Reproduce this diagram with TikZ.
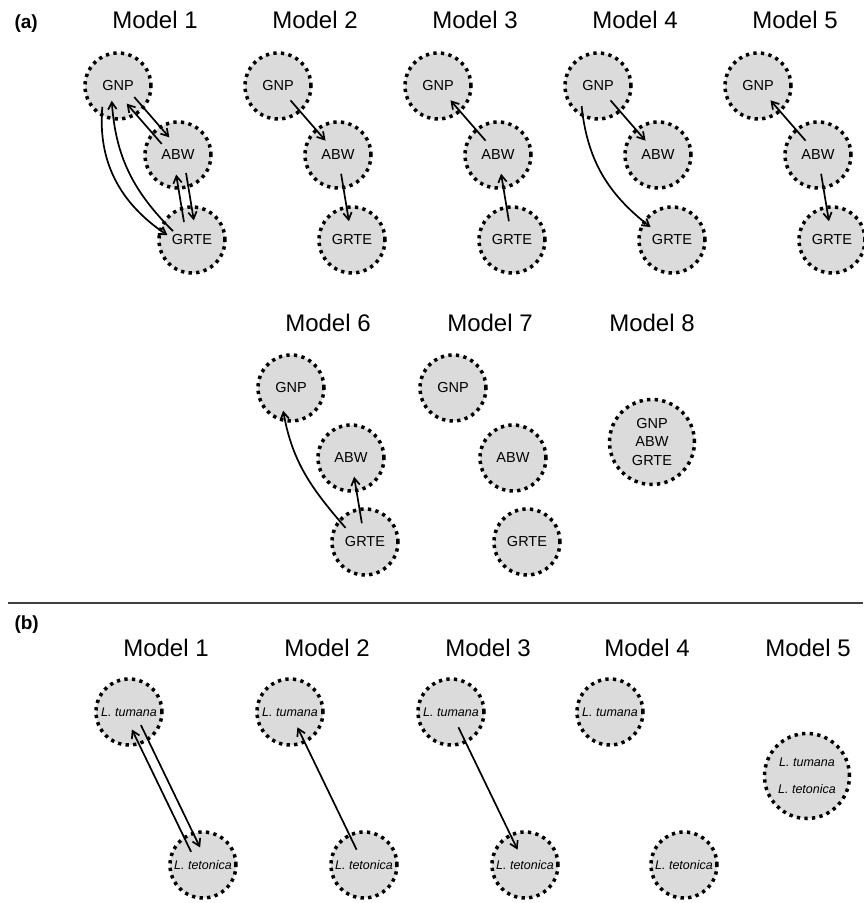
\documentclass[tikz,border=0pt]{standalone}
\usepackage{fontspec}
\setmainfont{Liberation Sans}
\usetikzlibrary{calc,arrows.meta}

\begin{document}
\begin{tikzpicture}[x=1pt,y=1pt,
  font=\fontsize{14.5}{16}\selectfont,
  pop/.style={circle,draw=black,fill=black!14,line width=3.5pt,dash pattern=on 3.3pt off 4.3pt,minimum size=66pt,inner sep=0pt,align=center},
  bigpop/.style={pop,minimum size=85pt},
  sp/.style={font=\fontsize{12.5}{14}\selectfont\itshape},
  title/.style={font=\fontsize{24}{28}\selectfont,anchor=base},
  panel/.style={font=\fontsize{19}{22}\selectfont\bfseries,anchor=base west},
  flow/.style={line width=1.7pt,-{Straight Barb[length=7pt,width=8.5pt]},shorten <=19pt,shorten >=19pt},
  flowb/.style={flow,shorten <=17pt,shorten >=17pt},
  curv/.style={line width=1.7pt,-{Straight Barb[length=7pt,width=8.5pt]}}]
\useasboundingbox (0,0) rectangle (863,903);

% ================= PANEL (a), TOP ROW =================
\node[panel] (pa) at (11,874) {(a)};
\node[title] (m1) at (155,874) {Model 1};
\node[title] (m2) at (315,874) {Model 2};
\node[title] (m3) at (475,874) {Model 3};
\node[title] (m4) at (635,874) {Model 4};
\node[title] (m5) at (795,874) {Model 5};

\node[pop] (gnp1) at (118,817) {GNP};
\node[pop] (abw1) at (178,748) {ABW};
\node[pop] (grte1) at (192,663) {GRTE};
\node[pop] (gnp2) at (278,817) {GNP};
\node[pop] (abw2) at (338,748) {ABW};
\node[pop] (grte2) at (352,663) {GRTE};
\node[pop] (gnp3) at (438,817) {GNP};
\node[pop] (abw3) at (498,748) {ABW};
\node[pop] (grte3) at (512,663) {GRTE};
\node[pop] (gnp4) at (598,817) {GNP};
\node[pop] (abw4) at (658,748) {ABW};
\node[pop] (grte4) at (672,663) {GRTE};
\node[pop] (gnp5) at (758,817) {GNP};
\node[pop] (abw5) at (818,748) {ABW};
\node[pop] (grte5) at (832,663) {GRTE};

% model 1: everything both ways
\draw[flow] ($(gnp1.center)!5pt!90:(abw1.center)$) -- ($(abw1.center)!5pt!-90:(gnp1.center)$);
\draw[flow] ($(abw1.center)!5pt!90:(gnp1.center)$) -- ($(gnp1.center)!5pt!-90:(abw1.center)$);
\draw[flow] ($(abw1.center)!5pt!90:(grte1.center)$) -- ($(grte1.center)!5pt!-90:(abw1.center)$);
\draw[flow] ($(grte1.center)!5pt!90:(abw1.center)$) -- ($(abw1.center)!5pt!-90:(grte1.center)$);
\draw[curv] ([shift={(-127:26)}]gnp1.center) to[out=-95,in=146] ([shift={(169:25)}]grte1.center);
\draw[curv] ([shift={(155:21)}]grte1.center) to[out=135,in=-86] ([shift={(-113:16)}]gnp1.center);

% model 2
\draw[flow] (gnp2.center) -- (abw2.center);
\draw[flow] (abw2.center) -- (grte2.center);
% model 3
\draw[flow] (abw3.center) -- (gnp3.center);
\draw[flow] (grte3.center) -- (abw3.center);
% model 4
\draw[flow] (gnp4.center) -- (abw4.center);
\draw[curv] ([shift={(-129:26)}]gnp4.center) to[out=-84,in=142] ([shift={(149:25)}]grte4.center);
% model 5
\draw[flow] (abw5.center) -- (gnp5.center);
\draw[flow] (abw5.center) -- (grte5.center);

% ================= PANEL (a), BOTTOM ROW =================
\node[title] (m6) at (328,571) {Model 6};
\node[title] (m7) at (490,571) {Model 7};
\node[title] (m8) at (652,571) {Model 8};

\node[pop] (gnp6) at (291,515) {GNP};
\node[pop] (abw6) at (351,445) {ABW};
\node[pop] (grte6) at (365,361) {GRTE};
\node[pop] (gnp7) at (453,515) {GNP};
\node[pop] (abw7) at (513,445) {ABW};
\node[pop] (grte7) at (527,361) {GRTE};
\node[bigpop,font=\fontsize{14.5}{18.5}\selectfont] (all8) at (652,461) {GNP\\ABW\\GRTE};

\draw[flow] (grte6.center) -- (abw6.center);
\draw[curv] ([shift={(144:24)}]grte6.center) to[out=131,in=-80] ([shift={(-109:24)}]gnp6.center);

% ================= SEPARATOR =================
\draw[black!75,line width=1.8pt] (8,300) coordinate (sepl) -- (863,300) coordinate (sepr);

% ================= PANEL (b) =================
\node[panel] (pb) at (11,273) {(b)};
\node[title] (n1) at (166,246) {Model 1};
\node[title] (n2) at (327,246) {Model 2};
\node[title] (n3) at (488,246) {Model 3};
\node[title] (n4) at (647,246) {Model 4};
\node[title] (n5) at (808,246) {Model 5};

\node[pop,sp] (tum1) at (129,191) {L. tumana};
\node[pop,sp] (tet1) at (203,38) {L. tetonica};
\node[pop,sp] (tum2) at (290,191) {L. tumana};
\node[pop,sp] (tet2) at (364,38) {L. tetonica};
\node[pop,sp] (tum3) at (451,191) {L. tumana};
\node[pop,sp] (tet3) at (525,38) {L. tetonica};
\node[pop,sp] (tum4) at (610,191) {L. tumana};
\node[pop,sp] (tet4) at (684,38) {L. tetonica};
\node[bigpop,font=\fontsize{12.5}{27}\selectfont\itshape] (both5) at (807,127) {L. tumana\\L. tetonica};

\draw[flowb] ($(tum1.center)!5pt!90:(tet1.center)$) -- ($(tet1.center)!5pt!-90:(tum1.center)$);
\draw[flowb] ($(tet1.center)!5pt!90:(tum1.center)$) -- ($(tum1.center)!5pt!-90:(tet1.center)$);
\draw[flowb] (tet2.center) -- (tum2.center);
\draw[flowb] (tum3.center) -- (tet3.center);
\end{tikzpicture}
\end{document}
